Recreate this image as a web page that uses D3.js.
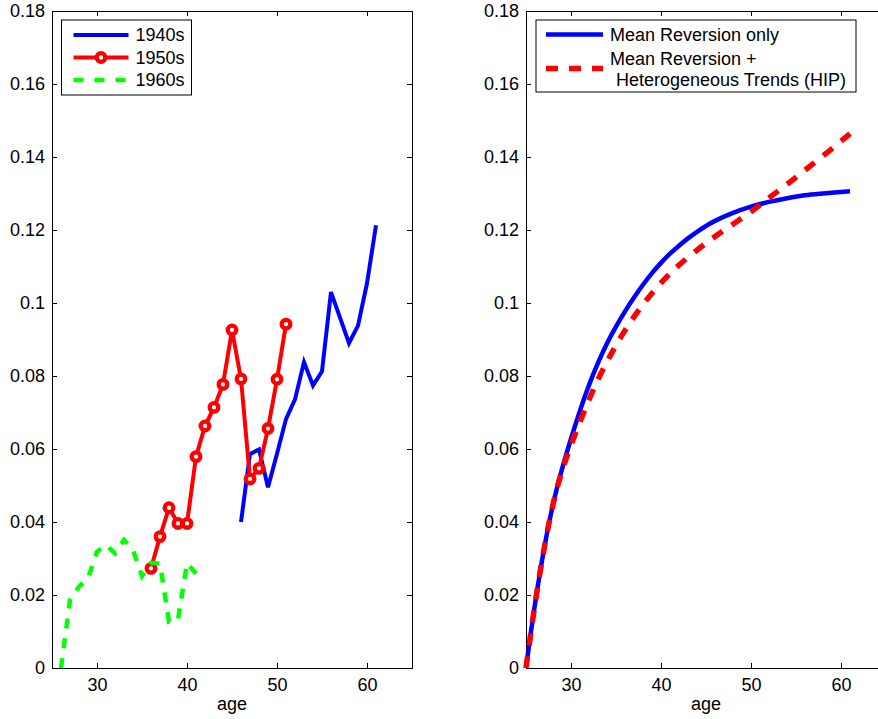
<!DOCTYPE html>
<html lang="en">
<head>
<meta charset="UTF-8">
<title>Variance of earnings by age</title>
<script src="https://cdnjs.cloudflare.com/ajax/libs/d3/7.8.5/d3.min.js"></script>
<style>
    body { margin: 0; background: #fff; }
    svg { display: block; }
    text, .tick text { font-family: "Liberation Sans", Arial, sans-serif; font-size: 18px; fill: #000; }
    .tick line { stroke: #000; }
</style>
</head>
<body>
<div id="chart"></div>
<script>
// left panel: cohorts
const ages1940 = [46, 47, 48, 49, 50, 51, 52, 53, 54, 55, 56, 57, 58, 59, 60, 61];
const val1940 = [0.0400, 0.0586, 0.0599, 0.0495, 0.0587, 0.0682, 0.0736, 0.0838, 0.0774, 0.0813, 0.1030, 0.0960, 0.0890, 0.0938, 0.1054, 0.1213];
const ages1950 = [36, 37, 38, 39, 40, 41, 42, 43, 44, 45, 46, 47, 48, 49, 50, 51];
const val1950 = [0.0273, 0.0360, 0.0439, 0.0396, 0.0396, 0.0579, 0.0663, 0.0714, 0.0777, 0.0926, 0.0792, 0.0518, 0.0547, 0.0656, 0.0791, 0.0942];
const ages1960 = [26, 27, 28, 29, 30, 31, 32, 33, 34, 35, 36, 37, 38, 39, 40, 41];
const val1960 = [0.0000, 0.0186, 0.0223, 0.0246, 0.0319, 0.0337, 0.0314, 0.0351, 0.0323, 0.0252, 0.0288, 0.0286, 0.0127, 0.0133, 0.0287, 0.0259];

// right panel: model fits
const agesMR = [25, 26, 27, 28, 29, 30, 31, 32, 33, 34, 35, 36, 37, 38, 39, 40, 41, 42, 43, 44, 45, 46, 48, 50, 52, 54, 56, 58, 61];
const valMR = [0, 0.0175, 0.0325, 0.0448, 0.0545, 0.0628, 0.0705, 0.0775, 0.0836, 0.0889, 0.0935, 0.0977, 0.1015, 0.1050, 0.1082, 0.1110, 0.1135, 0.1157, 0.1177, 0.1195, 0.1211, 0.1225, 0.1247, 0.1264, 0.1277, 0.1287, 0.1295, 0.1300, 0.1306];
const agesHIP = [25, 26, 27, 28, 29, 30, 31, 32, 33, 34, 35, 36, 37, 38, 39, 40, 41, 42, 44, 46, 48, 50, 52, 54, 56, 58, 60, 61];
const valHIP = [0, 0.0175, 0.0325, 0.0448, 0.0540, 0.0610, 0.0675, 0.0735, 0.0790, 0.0839, 0.0884, 0.0925, 0.0962, 0.0996, 0.1027, 0.1055, 0.1081, 0.1104, 0.1145, 0.1182, 0.1216, 0.1250, 0.1288, 0.1325, 0.1364, 0.1403, 0.1443, 0.1464];

const xTicks = [30, 40, 50, 60];
const yTicks = [0, 0.02, 0.04, 0.06, 0.08, 0.1, 0.12, 0.14, 0.16, 0.18];
const ageDomain = [25, 65];
const valueDomain = [0, 0.18];

const width = 878, height = 719;
const panelW = 360, panelH = 657;

const svg = d3.select("#chart").append("svg")
    .attr("width", width)
    .attr("height", height);

const x = d3.scaleLinear().domain(ageDomain).range([0, panelW]);
const y = d3.scaleLinear().domain(valueDomain).range([panelH, 0]);

const fmt = d => String(+d.toFixed(2));

function drawAxes(g) {
    g.append("rect")
        .attr("x", 0.5).attr("y", 0.5)
        .attr("width", panelW).attr("height", panelH)
        .attr("fill", "none").attr("stroke", "#000");

    g.append("g")
        .attr("transform", `translate(0,${panelH})`)
        .call(d3.axisBottom(x).tickValues(xTicks).tickSizeInner(-5).tickSizeOuter(0).tickPadding(10).tickFormat(d3.format("d")))
        .call(a => a.select(".domain").remove());
    g.append("g")
        .call(d3.axisTop(x).tickValues(xTicks).tickSizeInner(-5).tickSizeOuter(0).tickFormat(""))
        .call(a => a.select(".domain").remove());
    g.append("g")
        .call(d3.axisLeft(y).tickValues(yTicks).tickSizeInner(-5).tickSizeOuter(0).tickPadding(7).tickFormat(fmt))
        .call(a => a.select(".domain").remove());
    g.append("g")
        .attr("transform", `translate(${panelW},0)`)
        .call(d3.axisRight(y).tickValues(yTicks).tickSizeInner(-5).tickSizeOuter(0).tickFormat(""))
        .call(a => a.select(".domain").remove());

    g.append("text")
        .attr("x", panelW / 2)
        .attr("y", panelH + 42)
        .attr("text-anchor", "middle")
        .text("age");
}

function series(ages, vals) {
    return ages.map((a, i) => ({age: a, v: vals[i]}));
}

// ---------- left panel ----------
const left = svg.append("g").attr("transform", "translate(52,11)");
drawAxes(left);

const line = d3.line().x(d => x(d.age)).y(d => y(d.v));

left.append("path")
    .datum(series(ages1940, val1940))
    .attr("d", line)
    .attr("fill", "none").attr("stroke", "#0000ff").attr("stroke-width", 4);

const d1950 = series(ages1950, val1950);
left.append("path")
    .datum(d1950)
    .attr("d", line)
    .attr("fill", "none").attr("stroke", "#ff0000").attr("stroke-width", 4);
left.selectAll(".mark")
    .data(d1950)
    .join("circle")
    .attr("class", "mark")
    .attr("cx", d => x(d.age)).attr("cy", d => y(d.v))
    .attr("r", 4.3)
    .attr("fill", "#fff").attr("stroke", "#ff0000").attr("stroke-width", 4.3);

left.append("path")
    .datum(series(ages1960, val1960))
    .attr("d", line)
    .attr("fill", "none").attr("stroke", "#00ff00").attr("stroke-width", 4.5)
    .attr("stroke-dasharray", "10,10");

// left legend
const legL = left.append("g").attr("transform", "translate(9.5,9)");
legL.append("rect")
    .attr("width", 130).attr("height", 75)
    .attr("fill", "#fff").attr("stroke", "#000");
const legItems = [
    {label: "1940s", color: "#0000ff", dash: null, w: 4, marker: false},
    {label: "1950s", color: "#ff0000", dash: null, w: 4, marker: true},
    {label: "1960s", color: "#00ff00", dash: "10,11", w: 4.5, marker: false}
];
legItems.forEach((it, i) => {
    const cy = 15 + i * 22.5;
    legL.append("line")
        .attr("x1", 12).attr("x2", 67).attr("y1", cy).attr("y2", cy)
        .attr("stroke", it.color).attr("stroke-width", it.w)
        .attr("stroke-dasharray", it.dash);
    if (it.marker) {
        legL.append("circle")
            .attr("cx", 39.5).attr("cy", cy).attr("r", 4.3)
            .attr("fill", "#fff").attr("stroke", it.color).attr("stroke-width", 4.3);
    }
    legL.append("text")
        .attr("x", 74).attr("y", cy).attr("dy", "0.35em")
        .text(it.label);
});

// ---------- right panel ----------
const right = svg.append("g").attr("transform", "translate(526,11)");
drawAxes(right);

const smooth = d3.line().x(d => x(d.age)).y(d => y(d.v)).curve(d3.curveCatmullRom);

right.append("path")
    .datum(series(agesMR, valMR))
    .attr("d", smooth)
    .attr("fill", "none").attr("stroke", "#0000ff").attr("stroke-width", 4.5);
right.append("path")
    .datum(series(agesHIP, valHIP))
    .attr("d", smooth)
    .attr("fill", "none").attr("stroke", "#ff0000").attr("stroke-width", 5.5)
    .attr("stroke-dasharray", "12,11");

// right legend
const legR = right.append("g").attr("transform", "translate(10,9)");
legR.append("rect")
    .attr("width", 320).attr("height", 72)
    .attr("fill", "#fff").attr("stroke", "#000");
legR.append("line")
    .attr("x1", 10).attr("x2", 67).attr("y1", 14.5).attr("y2", 14.5)
    .attr("stroke", "#0000ff").attr("stroke-width", 4.5);
legR.append("text")
    .attr("x", 74).attr("y", 14.5).attr("dy", "0.35em")
    .text("Mean Reversion only");
legR.append("line")
    .attr("x1", 10).attr("x2", 67).attr("y1", 48.5).attr("y2", 48.5)
    .attr("stroke", "#ff0000").attr("stroke-width", 5.5)
    .attr("stroke-dasharray", "12,11");
legR.append("text")
    .attr("x", 74).attr("y", 38.5).attr("dy", "0.35em")
    .text("Mean Reversion +");
legR.append("text")
    .attr("x", 80).attr("y", 60).attr("dy", "0.35em")
    .text("Heterogeneous Trends (HIP)");
</script>
</body>
</html>
